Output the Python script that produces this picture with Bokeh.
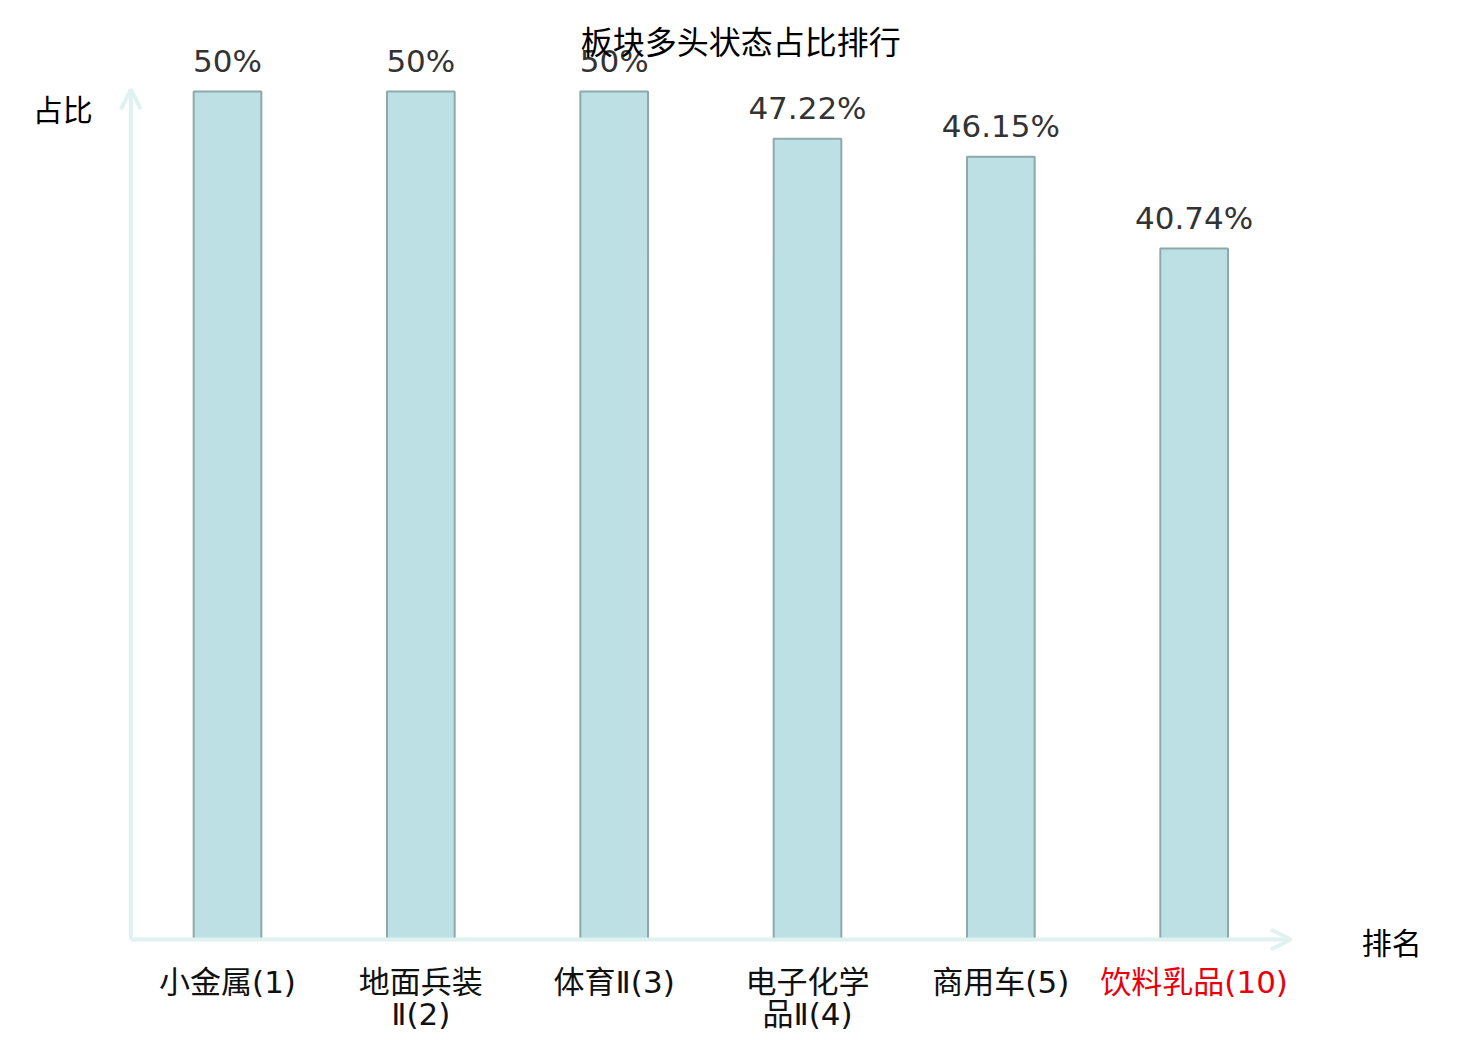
from bokeh.plotting import figure
from bokeh.models import ColumnDataSource, LabelSet, Label, Arrow, OpenHead, Range1d
from bokeh.core.properties import value
from bokeh.embed import file_html
from bokeh.resources import INLINE

# ---- data ----
categories_line1 = ["小金属(1)", "地面兵装", "体育Ⅱ(3)", "电子化学", "商用车(5)", "饮料乳品(10)"]
categories_line2 = ["", "Ⅱ(2)", "", "品Ⅱ(4)", "", ""]
values = [50, 50, 50, 47.22, 46.15, 40.74]
value_labels = ["50%", "50%", "50%", "47.22%", "46.15%", "40.74%"]
label_colors = ["#111111", "#111111", "#111111", "#111111", "#111111", "#e8000b"]
title_text = "板块多头状态占比排行"
y_name = "占比"
x_name = "排名"

n = len(values)
xs = list(range(n))
Y_TOP = 50.12

W, H = 1464, 1032
PX_X = 193.33   # pixels per category
PX_Y = 16.96    # pixels per percent
X0_PX = 227     # pixel of first category
Y0_PX = 939     # pixel of zero line

src = ColumnDataSource(dict(x=xs, top=values, vlab=value_labels,
                            l1=categories_line1, l2=categories_line2,
                            col=label_colors, zero=[0] * n))

p = figure(width=W, height=H, output_backend="svg", toolbar_location=None,
           x_range=Range1d(-X0_PX / PX_X, (W - X0_PX) / PX_X),
           y_range=Range1d(-(H - Y0_PX) / PX_Y, Y0_PX / PX_Y),
           min_border=0)
p.axis.visible = False
p.grid.visible = False
p.outline_line_color = None
p.background_fill_color = "white"
p.border_fill_color = "white"

p.vbar(x="x", top="top", width=0.35, bottom=0, source=src,
       fill_color="#bce0e3", line_color="#8ea9aa", line_width=2)

axis_color = "#dff2ef"
p.add_layout(Arrow(end=OpenHead(size=20, line_color=axis_color, line_width=4),
                   x_start=-0.5, y_start=0, x_end=n - 0.5, y_end=0,
                   line_color=axis_color, line_width=4))
p.add_layout(Arrow(end=OpenHead(size=20, line_color=axis_color, line_width=4),
                   x_start=-0.5, y_start=0, x_end=-0.5, y_end=Y_TOP,
                   line_color=axis_color, line_width=4))

cjk = "Noto Sans CJK SC"
mixed = "DejaVu Sans, Noto Sans CJK SC"

p.add_layout(LabelSet(x="x", y="top", text="vlab", source=src, y_offset=20,
                      text_align="center", text_baseline="alphabetic",
                      text_font=value("DejaVu Sans"), text_font_size="31px", text_color="#333333"))
p.add_layout(LabelSet(x="x", y="zero", text="l1", source=src, y_offset=-42,
                      text_align="center", text_baseline="middle",
                      text_font=value(mixed), text_font_size="31px", text_color="col"))
p.add_layout(LabelSet(x="x", y="zero", text="l2", source=src, y_offset=-74,
                      text_align="center", text_baseline="middle",
                      text_font=value(mixed), text_font_size="31px", text_color="col"))

p.add_layout(Label(x=-0.5, y=Y_TOP, x_offset=610, y_offset=49, text=title_text,
                   text_align="center", text_baseline="middle",
                   text_font=cjk, text_font_size="32px", text_color="#000000"))
p.add_layout(Label(x=-0.5, y=Y_TOP, x_offset=-68, y_offset=-19, text=y_name,
                   text_align="center", text_baseline="middle",
                   text_font=cjk, text_font_size="30px", text_color="#000000"))
p.add_layout(Label(x=n - 0.5, y=0, x_offset=101, y_offset=-1, text=x_name,
                   text_align="center", text_baseline="middle",
                   text_font=cjk, text_font_size="30px", text_color="#000000"))

open("out.html", "w").write(file_html(p, INLINE))
